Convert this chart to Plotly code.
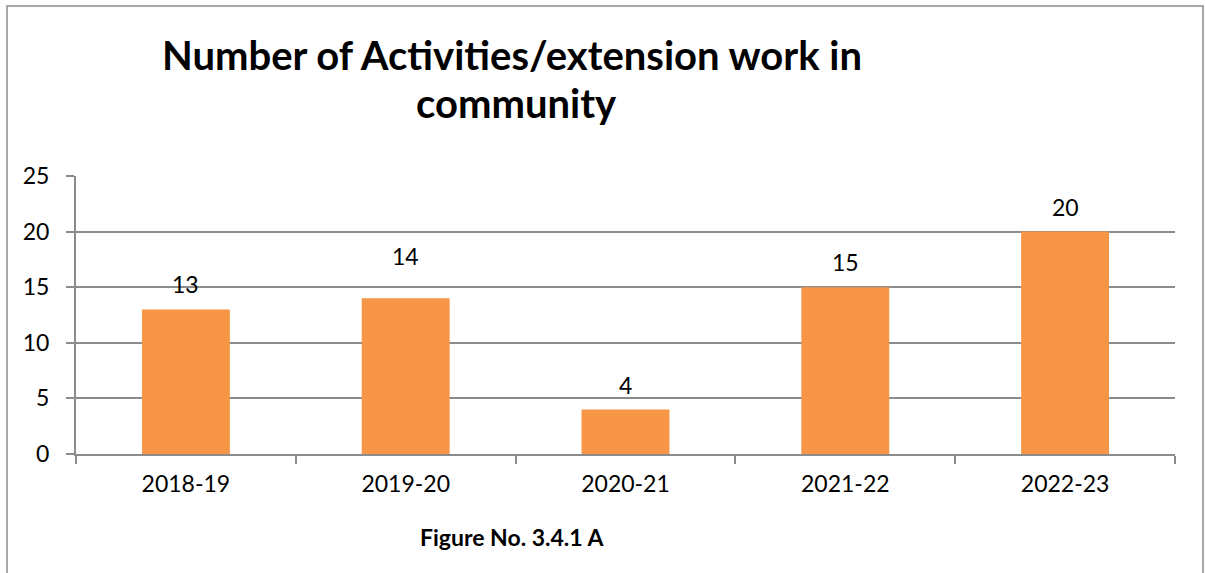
import plotly.graph_objects as go

categories = ["2018-19", "2019-20", "2020-21", "2021-22", "2022-23"]
activities = [13, 14, 4, 15, 20]
y_ticks = [0, 5, 10, 15, 20, 25]

BAR = "#F79646"
GRID = "#8C8C8C"
FONT = "Lato"

W, H = 1205, 573
PL, PR, PT, PB = 76, 1175, 176, 454  # plot area in pixels


def px(x):
    return (x - PL) / (PR - PL)


def py(y):
    return (PB - y) / (PB - PT)


fig = go.Figure()
fig.add_trace(go.Bar(
    x=categories, y=activities, marker=dict(color=BAR, line=dict(width=0)),
    width=0.4, hoverinfo="skip",
))

label_shift = {1: 42}
for i, (c, v) in enumerate(zip(categories, activities)):
    fig.add_annotation(x=c, y=v, text=str(v), showarrow=False,
                       yshift=label_shift.get(i, 25),
                       font=dict(family=FONT, size=23, color="#000000"))

# outer border
fig.add_shape(type="rect", xref="paper", yref="paper",
              x0=px(7), x1=px(1203), y0=py(600), y1=py(6),
              line=dict(color="#8C8C8C", width=1.5), layer="below")

fig.add_annotation(xref="paper", yref="paper", x=px(512), y=py(55),
                   text="Number of Activities/extension work in",
                   showarrow=False, yanchor="middle",
                   font=dict(family=FONT, size=40, color="#000000", weight="bold"))
fig.add_annotation(xref="paper", yref="paper", x=px(516), y=py(103),
                   text="community",
                   showarrow=False, yanchor="middle",
                   font=dict(family=FONT, size=40, color="#000000", weight="bold"))
fig.add_annotation(xref="paper", yref="paper", x=px(512), y=py(537),
                   text="Figure No. 3.4.1 A", showarrow=False, yanchor="middle",
                   font=dict(family=FONT, size=23, color="#000000", weight="bold"))

fig.update_layout(
    width=W, height=H,
    margin=dict(l=PL, r=W - PR, t=PT, b=H - PB),
    paper_bgcolor="white", plot_bgcolor="white",
    showlegend=False, bargap=0.6,
)
fig.update_xaxes(
    type="category", tickson="boundaries", ticks="outside", ticklen=8,
    tickcolor=GRID, tickwidth=2, showline=True, linecolor=GRID, linewidth=2,
    showgrid=False, tickfont=dict(family=FONT, size=23, color="#000000"),
    range=[-0.5, 4.5], ticklabelstandoff=8,
)
fig.update_yaxes(
    range=[0, 25], tickvals=y_ticks, ticks="outside", ticklen=8,
    tickcolor=GRID, tickwidth=2, showline=True, linecolor=GRID, linewidth=2,
    showgrid=True, gridcolor=GRID, gridwidth=2, zeroline=False,
    tickfont=dict(family=FONT, size=23, color="#000000"), ticklabelstandoff=12,
)

fig.write_html("out.html", config={"displayModeBar": False},
               post_script="document.body.style.margin='0';")
